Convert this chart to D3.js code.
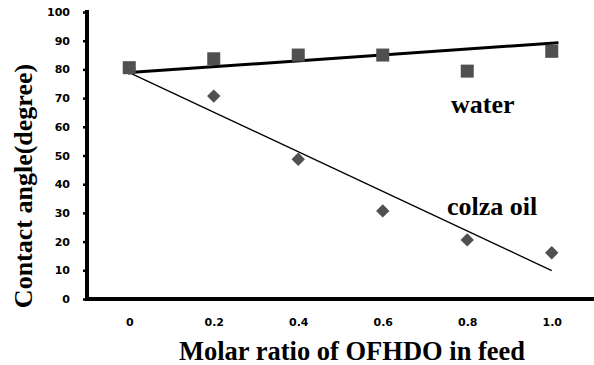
<!DOCTYPE html>
<html><head><meta charset="utf-8">
<script src="https://cdn.jsdelivr.net/npm/d3@7"></script>
<style>body{margin:0;background:#fff;} svg{display:block;}</style>
</head><body>
<svg id="c" width="594" height="365"></svg>
<script>
const xValues = [0, 0.2, 0.4, 0.6, 0.8, 1.0];
const xTickLabels = ["0", "0.2", "0.4", "0.6", "0.8", "1.0"];
const waterValues = [80.6, 83.7, 85.0, 85.0, 79.4, 86.3];
const colzaValues = [80.3, 70.7, 48.7, 30.7, 20.6, 16.1];
const waterTrend = [[0, 78.9], [1.016, 89.3]];
const colzaTrend = [[0, 78.9], [1.0, 9.9]];
const yTicks = [0, 10, 20, 30, 40, 50, 60, 70, 80, 90, 100];

const svg = d3.select("#c");
const x = d3.scaleLinear().domain([-0.1, 1.1]).range([87, 594]);
const y = d3.scaleLinear().domain([0, 100]).range([299, 12]);
const tickFont = "'DejaVu Sans', sans-serif";
const serif = "'Liberation Serif', 'DejaVu Serif', 'Times New Roman', serif";

// y axis
const yAxis = svg.append("g").attr("transform", "translate(87,0)")
  .call(d3.axisLeft(y).tickValues(yTicks).tickSize(4).tickPadding(13));
yAxis.select(".domain").attr("d", "M0,10V299").attr("stroke", "#000").attr("stroke-width", 4);
yAxis.selectAll(".tick line").attr("stroke", "#000").attr("stroke-width", 2.5);
yAxis.selectAll(".tick text").attr("font-family", tickFont).attr("font-weight", "bold")
  .attr("font-size", 11).attr("fill", "#000");

// x axis
const xAxis = svg.append("g").attr("transform", "translate(0,299)")
  .call(d3.axisBottom(x).tickValues(xValues).tickFormat((d, i) => xTickLabels[i]).tickSize(0).tickPadding(19));
xAxis.select(".domain").attr("d", "M85,0H594").attr("stroke", "#000").attr("stroke-width", 4);
xAxis.selectAll(".tick text").attr("font-family", tickFont).attr("font-weight", "bold")
  .attr("font-size", 11).attr("fill", "#000");

// trend lines
const line = d3.line().x(d => x(d[0])).y(d => y(d[1]));
svg.append("path").attr("d", line(colzaTrend)).attr("stroke", "#000").attr("stroke-width", 1.3).attr("fill", "none");
svg.append("path").attr("d", line(waterTrend)).attr("stroke", "#000").attr("stroke-width", 3).attr("fill", "none");

// markers
const mColor = "#505050";
svg.append("g").selectAll("path").data(colzaValues).join("path")
  .attr("d", d3.symbol(d3.symbolSquare, 90))
  .attr("transform", (d, i) => `translate(${x(xValues[i])},${y(d)}) rotate(45)`)
  .attr("fill", mColor);
svg.append("g").selectAll("rect").data(waterValues).join("rect")
  .attr("x", (d, i) => x(xValues[i]) - 6.5).attr("y", d => y(d) - 6.5)
  .attr("width", 13).attr("height", 13).attr("fill", mColor);

// labels
svg.append("text").attr("x", 451).attr("y", 113).text("water")
  .attr("font-family", serif).attr("font-weight", "bold").attr("font-size", 26);
svg.append("text").attr("x", 447).attr("y", 215).text("colza oil")
  .attr("font-family", serif).attr("font-weight", "bold").attr("font-size", 26);

svg.append("text").attr("x", 352).attr("y", 360).attr("text-anchor", "middle")
  .text("Molar ratio of OFHDO in feed")
  .attr("font-family", serif).attr("font-weight", "bold").attr("font-size", 26.5);
svg.append("text").attr("transform", "translate(31.5,186) rotate(-90)").attr("text-anchor", "middle")
  .text("Contact angle(degree)")
  .attr("font-family", serif).attr("font-weight", "bold").attr("font-size", 26);
</script>
</body></html>
